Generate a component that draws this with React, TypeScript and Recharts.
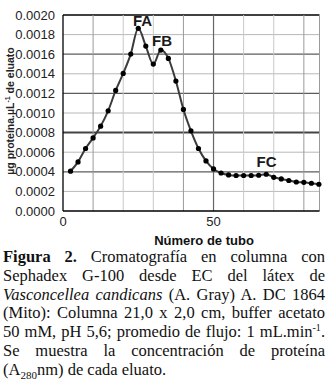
import React from "react";
import { LineChart, Line, XAxis, YAxis, ReferenceLine, ReferenceDot } from "recharts";

// número de tubo
const tubes = [
  2.5, 5, 7.5, 10, 12.5, 15, 17.5, 20, 22.5, 25, 27.5, 30, 32.5, 35, 37.5, 40, 42.5,
  45, 47.5, 50, 52.5, 55, 57.5, 60, 62.5, 65, 67.5, 70, 72.5, 75, 77.5, 80, 82.5, 85,
];

// µg proteína / µL de eluato
const conc = [
  0.000406, 0.000501, 0.000638, 0.000746, 0.000866, 0.001022, 0.00123, 0.001404,
  0.001601, 0.001864, 0.001683, 0.001499, 0.001642, 0.001557, 0.001326, 0.001036,
  0.000818, 0.000638, 0.000511, 0.000429, 0.000388, 0.000368, 0.000362, 0.000362,
  0.000362, 0.000365, 0.000375, 0.000344, 0.000327, 0.000311, 0.000296, 0.000293,
  0.000283, 0.000273,
];

const yTicks = [0, 0.0002, 0.0004, 0.0006, 0.0008, 0.001, 0.0012, 0.0014, 0.0016, 0.0018, 0.002];
const xTicks = [0, 50];
const xGrid = [10, 20, 30, 40, 50, 60, 70, 80];
const xMax = 85.2;

const peaks = [
  { name: "FA", tube: 26.4, value: 0.00189 },
  { name: "FB", tube: 32.9, value: 0.001683 },
  { name: "FC", tube: 67.6, value: 0.000447 },
];

const data = tubes.map((t, i) => ({ tube: t, conc: conc[i] }));

const sans = "'Liberation Sans', Arial, sans-serif";

// the scanned grid alternates dark and light lines
function hLineStyle(v: number) {
  if (v === 0.002) return { stroke: "#000", strokeWidth: 1.3 };
  if (v === 0.0008) return { stroke: "#444", strokeWidth: 2 };
  if (v === 0.0004 || v === 0.0012 || v === 0.0016) return { stroke: "#5c5c5c", strokeWidth: 1.2 };
  return { stroke: "#b8b8b8", strokeWidth: 1 };
}

function vLineStyle(v: number) {
  if (v === 50) return { stroke: "#666", strokeWidth: 1.2 };
  if (v === 10 || v === 40 || v === 80) return { stroke: "#9a9a9a", strokeWidth: 1 };
  return { stroke: "#c8c8c8", strokeWidth: 1 };
}

const PeakLabel = (props: any) => {
  const { viewBox, value } = props;
  return (
    <text
      x={viewBox.x}
      y={viewBox.y}
      textAnchor="middle"
      fontFamily={sans}
      fontWeight="bold"
      fontSize={15}
      fill="#1a1a1a"
    >
      {value}
    </text>
  );
};

const lineStyle: React.CSSProperties = {
  textAlign: "justify",
  textAlignLast: "justify",
  whiteSpace: "nowrap",
};

export default function App() {
  return (
    <div style={{ position: "absolute", left: 0, top: 0, width: 332, height: 384, background: "#fff" }}>
      <LineChart
        width={332}
        height={230}
        data={data}
        margin={{ top: 15, right: 12.5, left: 0, bottom: 0 }}
      >
        <XAxis
          dataKey="tube"
          type="number"
          domain={[0, xMax]}
          ticks={xTicks}
          interval={0}
          height={19}
          tickLine={false}
          tickSize={4}
          axisLine={{ stroke: "#000", strokeWidth: 1.3 }}
          tick={{ fontFamily: sans, fontSize: 13, fill: "#222" }}
        />
        <YAxis
          type="number"
          domain={[0, 0.002]}
          ticks={yTicks}
          interval={0}
          width={63}
          tickLine={false}
          axisLine={{ stroke: "#000", strokeWidth: 1.3 }}
          tickFormatter={(v: number) => v.toFixed(4)}
          tick={{ fontFamily: sans, fontSize: 13, fill: "#222" }}
        />
        {yTicks.slice(1).map((v) => (
          <ReferenceLine key={"h" + v} y={v} {...hLineStyle(v)} />
        ))}
        {xGrid.map((v) => (
          <ReferenceLine key={"v" + v} x={v} {...vLineStyle(v)} />
        ))}
        <ReferenceLine x={xMax} stroke="#9a9a9a" strokeWidth={1} />
        <Line
          type="monotone"
          dataKey="conc"
          stroke="#3c3c3c"
          strokeWidth={2}
          dot={{ r: 2.6, fill: "#000", stroke: "#000", strokeWidth: 0 }}
          isAnimationActive={false}
        />
        {peaks.map((p) => (
          <ReferenceDot
            key={p.name}
            x={p.tube}
            y={p.value}
            r={0}
            stroke="none"
            fill="none"
            label={<PeakLabel value={p.name} />}
          />
        ))}
      </LineChart>

      <div
        style={{
          position: "absolute",
          left: 10 - 75,
          top: 111 - 7,
          width: 150,
          height: 14,
          lineHeight: "14px",
          textAlign: "center",
          transform: "rotate(-90deg)",
          fontFamily: sans,
          fontWeight: "bold",
          fontSize: 10.5,
          color: "#222",
          whiteSpace: "nowrap",
        }}
      >
        µg proteína.µL<sup style={{ fontSize: 7, lineHeight: 0 }}>-1</sup> de eluato
      </div>

      <div
        style={{
          position: "absolute",
          left: 124,
          top: 234,
          width: 160,
          height: 13,
          lineHeight: "13px",
          textAlign: "center",
          fontFamily: sans,
          fontWeight: "bold",
          fontSize: 13,
          color: "#111",
        }}
      >
        Número de tubo
      </div>

      <div
        style={{
          position: "absolute",
          left: 3,
          top: 248,
          width: 322,
          fontFamily: "'Liberation Serif', 'Times New Roman', serif",
          fontSize: 16.5,
          lineHeight: "18.8px",
          color: "#111",
        }}
      >
        <div style={lineStyle}>
          <b>Figura 2.</b> Cromatografía en columna con
        </div>
        <div style={lineStyle}>Sephadex G-100 desde EC del látex de</div>
        <div style={lineStyle}>
          <i>Vasconcellea candicans</i> (A. Gray) A. DC 1864
        </div>
        <div style={lineStyle}>(Mito): Columna 21,0 x 2,0 cm, buffer acetato</div>
        <div style={lineStyle}>
          50 mM, pH 5,6; promedio de flujo: 1 mL.min<sup style={{ fontSize: 10, lineHeight: 0 }}>-1</sup>.
        </div>
        <div style={lineStyle}>Se muestra la concentración de proteína</div>
        <div style={{ whiteSpace: "nowrap" }}>
          (A<sub style={{ fontSize: 11, lineHeight: 0 }}>280</sub>nm) de cada eluato.
        </div>
      </div>
    </div>
  );
}
